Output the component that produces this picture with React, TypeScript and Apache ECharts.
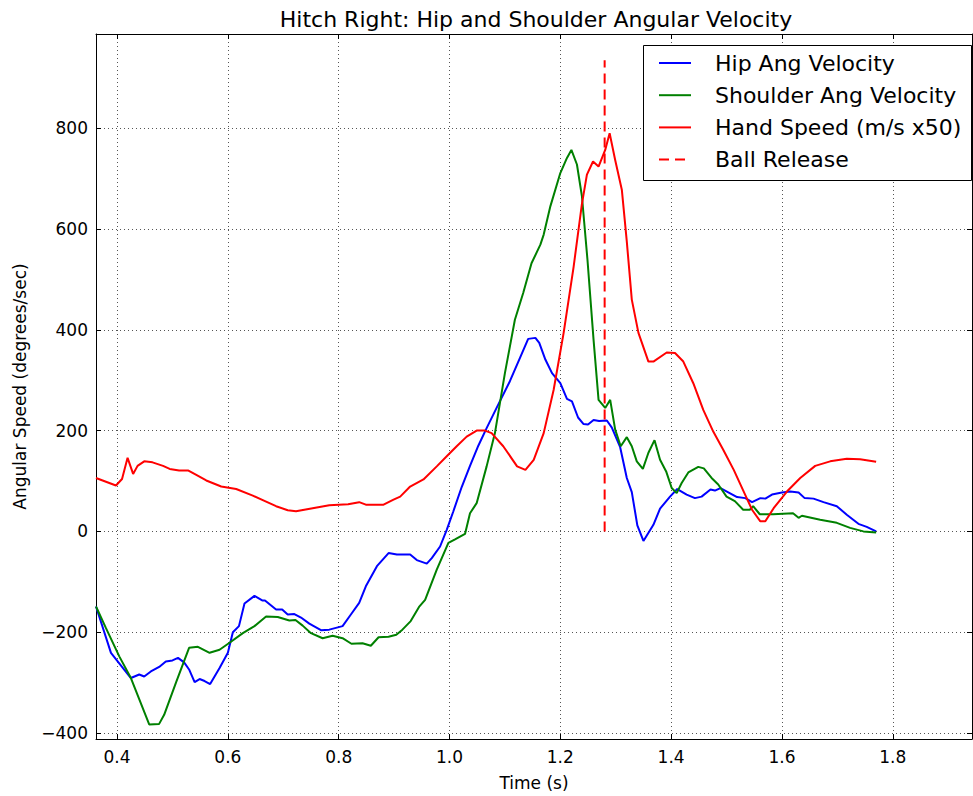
import React, { useEffect, useRef } from 'react';
import * as echarts from 'echarts';

// ---- Data ----
const hipTime = [0.362, 0.389, 0.425, 0.440, 0.449, 0.461, 0.476, 0.488, 0.500, 0.510, 0.521, 0.530, 0.540, 0.549, 0.558, 0.568, 0.585, 0.600, 0.609, 0.620, 0.630, 0.648, 0.662, 0.667, 0.687, 0.698, 0.708, 0.720, 0.732, 0.747, 0.768, 0.783, 0.807, 0.822, 0.837, 0.849, 0.869, 0.890, 0.905, 0.929, 0.941, 0.959, 0.968, 0.983, 0.995, 1.007, 1.022, 1.037, 1.052, 1.067, 1.085, 1.109, 1.127, 1.142, 1.155, 1.162, 1.173, 1.185, 1.200, 1.212, 1.221, 1.232, 1.242, 1.250, 1.260, 1.270, 1.284, 1.293, 1.308, 1.320, 1.329, 1.339, 1.350, 1.368, 1.380, 1.398, 1.411, 1.428, 1.443, 1.455, 1.471, 1.479, 1.489, 1.504, 1.519, 1.534, 1.546, 1.561, 1.570, 1.582, 1.600, 1.615, 1.630, 1.641, 1.657, 1.675, 1.699, 1.717, 1.738, 1.753, 1.770];
const hipValues = [-149, -241, -291, -284, -288, -278, -269, -258, -256, -251, -260, -274, -299, -293, -297, -303, -271, -241, -200, -188, -143, -128, -137, -137, -155, -155, -165, -164, -171, -183, -196, -195, -188, -165, -142, -109, -69, -43, -46, -46, -57, -64, -53, -30, 3, 40, 88, 130, 170, 205, 245, 298, 344, 382, 384, 374, 341, 314, 294, 263, 258, 226, 213, 212, 221, 219, 220, 206, 167, 106, 78, 12, -19, 13, 45, 69, 84, 73, 66, 69, 83, 81, 86, 77, 68, 66, 58, 66, 65, 73, 77, 79, 77, 66, 65, 58, 50, 33, 15, 9, 0];

const shoulderTime = [0.362, 0.380, 0.404, 0.425, 0.458, 0.476, 0.485, 0.507, 0.530, 0.546, 0.567, 0.585, 0.603, 0.627, 0.648, 0.669, 0.690, 0.711, 0.722, 0.735, 0.750, 0.771, 0.789, 0.807, 0.823, 0.843, 0.858, 0.872, 0.890, 0.904, 0.915, 0.930, 0.945, 0.956, 0.977, 0.998, 1.010, 1.028, 1.037, 1.049, 1.067, 1.082, 1.100, 1.118, 1.133, 1.148, 1.164, 1.170, 1.182, 1.200, 1.212, 1.220, 1.230, 1.239, 1.249, 1.260, 1.269, 1.281, 1.290, 1.299, 1.309, 1.320, 1.329, 1.338, 1.349, 1.359, 1.370, 1.380, 1.391, 1.401, 1.410, 1.419, 1.431, 1.449, 1.459, 1.473, 1.485, 1.500, 1.515, 1.530, 1.542, 1.548, 1.560, 1.584, 1.620, 1.630, 1.636, 1.669, 1.699, 1.723, 1.747, 1.770];
const shoulderValues = [-149, -192, -248, -291, -383, -382, -364, -298, -231, -229, -241, -235, -221, -202, -188, -169, -170, -177, -176, -187, -202, -212, -207, -212, -223, -222, -227, -210, -209, -205, -195, -178, -150, -136, -76, -23, -16, -5, 36, 56, 129, 195, 314, 420, 473, 532, 569, 589, 645, 711, 741, 757, 728, 665, 539, 380, 261, 245, 261, 202, 169, 187, 169, 139, 124, 156, 181, 142, 119, 86, 76, 96, 117, 128, 125, 106, 93, 69, 60, 43, 43, 50, 34, 34, 36, 27, 31, 23, 17, 7, 0, -2];

const handTime = [0.362, 0.398, 0.409, 0.419, 0.429, 0.437, 0.449, 0.464, 0.483, 0.495, 0.512, 0.528, 0.543, 0.561, 0.588, 0.615, 0.645, 0.663, 0.687, 0.708, 0.723, 0.753, 0.783, 0.817, 0.837, 0.849, 0.881, 0.899, 0.911, 0.929, 0.953, 0.977, 0.995, 1.013, 1.031, 1.049, 1.064, 1.076, 1.097, 1.122, 1.137, 1.152, 1.170, 1.188, 1.206, 1.224, 1.239, 1.248, 1.259, 1.269, 1.281, 1.289, 1.299, 1.311, 1.320, 1.329, 1.341, 1.359, 1.368, 1.392, 1.407, 1.422, 1.440, 1.458, 1.476, 1.494, 1.513, 1.531, 1.546, 1.561, 1.570, 1.585, 1.609, 1.633, 1.660, 1.687, 1.717, 1.741, 1.770];
const handValues = [106, 91, 104, 146, 114, 130, 139, 137, 130, 124, 121, 121, 112, 101, 89, 84, 71, 62, 50, 42, 40, 46, 52, 54, 58, 53, 53, 63, 69, 89, 103, 129, 149, 169, 188, 200, 200, 195, 169, 129, 122, 142, 195, 281, 394, 525, 650, 708, 734, 724, 757, 790, 737, 678, 575, 460, 394, 337, 337, 355, 354, 337, 294, 241, 198, 162, 122, 79, 43, 20, 20, 46, 79, 106, 130, 139, 144, 143, 138];

const releaseTime = 1.28;
const releaseSpan = [0, 935];

const legendLabels = ['Hip Ang Velocity', 'Shoulder Ang Velocity', 'Hand Speed (m/s x50)', 'Ball Release'];
const seriesColors = ['#0000ff', '#008000', '#ff0000', '#ff0000'];

const xRange = [0.362, 1.943];
const yRange = [-412, 987];
const xTickValues = [0.4, 0.6, 0.8, 1.0, 1.2, 1.4, 1.6, 1.8];
const yTickValues = [-400, -200, 0, 200, 400, 600, 800];

const FONT = 'DejaVu Sans';

const zip = (t: number[], v: number[]) => t.map((x, i) => [x, v[i]]);

export default function App() {
  const ref = useRef<HTMLDivElement>(null);
  useEffect(() => {
    if (!ref.current) return;
    const chart = echarts.init(ref.current, undefined, { renderer: 'svg' });

    const gridLine = { show: true, lineStyle: { color: '#555', width: 1, type: [1, 3] } };
    const axisLine = { show: true, onZero: false, lineStyle: { color: '#000', width: 1 } };
    const xTick = { show: true, inside: true, length: 5, customValues: xTickValues, lineStyle: { color: '#000', width: 1 } };
    const yTick = { show: true, inside: true, length: 5, customValues: yTickValues, lineStyle: { color: '#000', width: 1 } };

    const baseX = { type: 'value', min: xRange[0], max: xRange[1], axisLine, axisTick: xTick };
    const baseY = { type: 'value', min: yRange[0], max: yRange[1], axisLine, axisTick: yTick };

    const legendTop = 63;
    const legendGap = 32.2;
    const graphics: any[] = [
      {
        type: 'text', x: 536, y: 19, z: 100,
        style: { text: 'Hitch Right: Hip and Shoulder Angular Velocity', font: `22px "${FONT}"`, fill: '#000', align: 'center', verticalAlign: 'middle', textAlign: 'center', textVerticalAlign: 'middle' },
      },
      {
        type: 'rect', z: 100,
        shape: { x: 643.5, y: 45.5, width: 328, height: 135 },
        style: { fill: '#fff', stroke: '#000', lineWidth: 1 },
      },
    ];
    legendLabels.forEach((lab, i) => {
      const y = legendTop + i * legendGap;
      graphics.push({
        type: 'line', z: 101,
        shape: { x1: 659, y1: y, x2: 691, y2: y },
        style: { stroke: seriesColors[i], lineWidth: 2, lineDash: i === 3 ? [10, 6] : null },
      });
      graphics.push({
        type: 'text', x: 715, y, z: 101,
        style: { text: lab, font: `22px "${FONT}"`, fill: '#000', align: 'left', verticalAlign: 'middle', textAlign: 'left', textVerticalAlign: 'middle' },
      });
    });

    const option: any = {
      animation: false,
      backgroundColor: '#fff',
      textStyle: { fontFamily: FONT },
      grid: { left: 96, top: 34, width: 876, height: 705, containLabel: false, outerBoundsMode: 'none' },
      xAxis: [
        {
          ...baseX, position: 'bottom',
          axisLabel: { show: true, customValues: xTickValues, color: '#000', fontSize: 17, fontFamily: FONT, margin: 9, formatter: (v: number) => v.toFixed(1) },
          splitLine: gridLine,
          name: 'Time (s)', nameLocation: 'middle', nameGap: 35,
          nameTextStyle: { color: '#000', fontSize: 17, fontFamily: FONT },
        },
        { ...baseX, position: 'top', axisLabel: { show: false }, splitLine: { show: false } },
      ],
      yAxis: [
        {
          ...baseY, position: 'left',
          axisLabel: { show: true, customValues: yTickValues, color: '#000', fontSize: 17, fontFamily: FONT, margin: 8, formatter: (v: number) => (v < 0 ? '\u2212' + Math.abs(v) : String(v)) },
          splitLine: gridLine,
          name: 'Angular Speed (degrees/sec)', nameLocation: 'middle', nameGap: 68,
          nameTextStyle: { color: '#000', fontSize: 17, fontFamily: FONT },
        },
        { ...baseY, position: 'right', axisLabel: { show: false }, splitLine: { show: false } },
      ],
      series: [
        { type: 'line', name: legendLabels[0], data: zip(hipTime, hipValues), symbol: 'none', lineStyle: { color: seriesColors[0], width: 2 }, itemStyle: { color: seriesColors[0] }, z: 2 },
        { type: 'line', name: legendLabels[1], data: zip(shoulderTime, shoulderValues), symbol: 'none', lineStyle: { color: seriesColors[1], width: 2 }, itemStyle: { color: seriesColors[1] }, z: 3 },
        { type: 'line', name: legendLabels[2], data: zip(handTime, handValues), symbol: 'none', lineStyle: { color: seriesColors[2], width: 2 }, itemStyle: { color: seriesColors[2] }, z: 4 },
        { type: 'line', name: legendLabels[3], data: [[releaseTime, releaseSpan[0]], [releaseTime, releaseSpan[1]]], symbol: 'none', lineStyle: { color: seriesColors[3], width: 2, type: [10, 6] }, itemStyle: { color: seriesColors[3] }, z: 5 },
      ],
      graphic: graphics,
    };
    chart.setOption(option);
    return () => chart.dispose();
  }, []);
  return <div ref={ref} style={{ position: 'absolute', left: 0, top: 0, width: 973, height: 796, background: '#fff' }} />;
}
